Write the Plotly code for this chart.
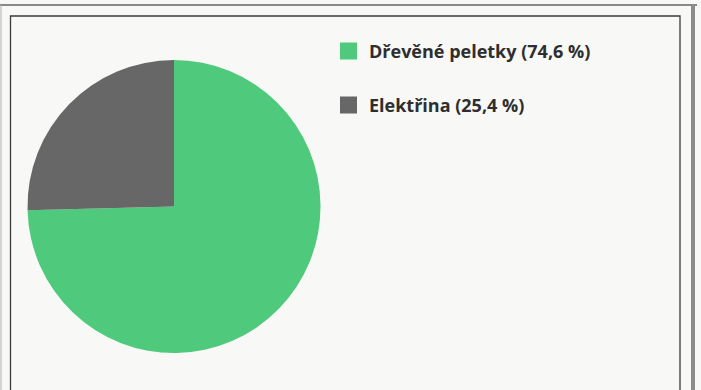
import plotly.graph_objects as go

# Heating energy sources and their share
labels = ["Dřevěné peletky", "Elektřina"]
values = [74.6, 25.4]
colors = ["#4fca7c", "#676767"]

W, H = 701, 390

fig = go.Figure(
    go.Pie(
        labels=labels,
        values=values,
        marker=dict(colors=colors, line=dict(width=0)),
        sort=False,
        direction="clockwise",
        rotation=0,
        textinfo="none",
        hoverinfo="label+percent",
        showlegend=False,
        domain=dict(x=[27 / W, 321 / W], y=[(H - 353) / H, (H - 60) / H]),
    )
)

def px(x):
    return x / W

def py(y):
    return 1 - y / H

shapes = [
    # outer page frame
    dict(type="line", x0=0, x1=px(697), y0=py(5), y1=py(5),
         line=dict(color="#8a8a8a", width=2)),
    dict(type="line", x0=px(693), x1=px(693), y0=0, y1=py(5),
         line=dict(color="#8c8c8c", width=4)),
    dict(type="line", x0=px(1), x1=px(1), y0=0, y1=py(5),
         line=dict(color="#b0b0b0", width=1)),
    # chart frame
    dict(type="rect", x0=px(10.5), x1=px(680), y0=-0.05, y1=py(16),
         line=dict(color="#3a3a3a", width=1.3)),
]

annotations = []
legend_y = [51, 105]
for lab, val, col, y in zip(labels, values, colors, legend_y):
    shapes.append(dict(type="rect", x0=px(340), x1=px(357),
                       y0=py(y - 8.5), y1=py(y + 8.5),
                       fillcolor=col, line=dict(width=0)))
    txt = f"{lab} ({val:.1f} %)".replace(".", ",")
    annotations.append(dict(
        x=px(367), y=py(y), xref="paper", yref="paper",
        xanchor="left", yanchor="middle", showarrow=False,
        text=f"<b>{txt}</b>",
        font=dict(family="Open Sans, Lato, sans-serif", size=18, color="#2e2e2e"),
    ))

fig.update_layout(
    width=W, height=H,
    margin=dict(l=0, r=0, t=0, b=0),
    paper_bgcolor="#f8f8f6",
    plot_bgcolor="#f8f8f6",
    shapes=shapes,
    annotations=annotations,
)

fig.write_html("out.html")
